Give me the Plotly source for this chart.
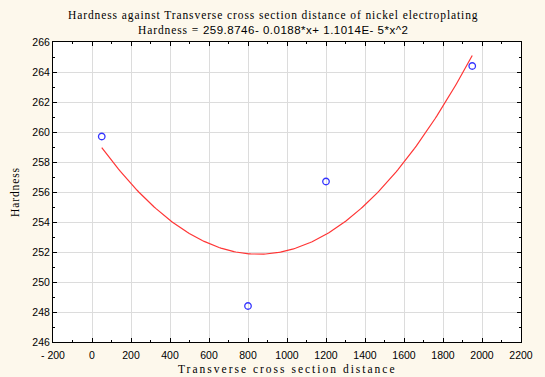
import numpy as np
import plotly.graph_objects as go

# Measured hardness at transverse positions
distance = [50, 800, 1200, 1950]
hardness = [259.7, 248.4, 256.7, 264.4]

# Quadratic fit coefficients (Hardness = c0 + c1*x + c2*x^2)
c0, c1, c2 = 259.8746, -0.0188, 1.1014e-5

x_ticks = [-200, 0, 200, 400, 600, 800, 1000, 1200, 1400, 1600, 1800, 2000, 2200]
x_tick_text = ["- 200"] + [str(v) for v in x_ticks[1:]]
y_ticks = [246, 248, 250, 252, 254, 256, 258, 260, 262, 264, 266]

xs = np.linspace(min(distance), max(distance), 200)
ys = c0 + c1 * xs + c2 * xs ** 2

fig = go.Figure()
fig.add_trace(go.Scatter(x=xs, y=ys, mode="lines",
                         line=dict(color="#ff3535", width=1.2),
                         showlegend=False, hoverinfo="skip"))
fig.add_trace(go.Scatter(x=distance, y=hardness, mode="markers",
                         marker=dict(symbol="circle-open", size=6.5,
                                     color="#3434ff", line=dict(width=1.3)),
                         showlegend=False))

axis_common = dict(
    showline=True, linecolor="black", linewidth=1, mirror="ticks",
    ticks="inside", ticklen=4, tickcolor="black",
    showgrid=True, gridcolor="#dcdcdc", gridwidth=1, zeroline=False,
    tickfont=dict(family="Liberation Sans, Arial, sans-serif", size=10.5, color="black"),
)

fig.update_xaxes(range=[-200, 2200], tickvals=x_ticks, ticktext=x_tick_text,
                 ticklabelstandoff=3,
                 minor=dict(dtick=100, ticks="inside", ticklen=2, tickcolor="black", showgrid=False),
                 **axis_common)
fig.update_yaxes(range=[246, 266], tickvals=y_ticks,
                 minor=dict(dtick=1, ticks="inside", ticklen=2, tickcolor="black", showgrid=False),
                 **axis_common)

serif = "Liberation Serif, Times New Roman, serif"
sans = "Liberation Sans, Arial, sans-serif"


def spaced(text, px, family=None):
    style = f"letter-spacing:{px}px"
    if family:
        style += f";font-family:{family}"
    return f"<span style='{style}'>{text}</span>"


title_x = 0.472

fig.update_layout(
    width=545, height=377,
    margin=dict(l=53, r=13, t=42, b=35),
    paper_bgcolor="#fdf8ec", plot_bgcolor="white",
    annotations=[
        dict(text=spaced("Hardness against Transverse cross section distance of nickel electroplating", 0.9),
             x=title_x, y=1, xref="paper", yref="paper", yanchor="middle", yshift=27,
             showarrow=False, font=dict(family=serif, size=11.5, color="black")),
        dict(text=spaced("Hardness = ", 0.9) + spaced("259.8746- 0.0188*x+ 1.1014E- 5*x^2", 0.5, sans),
             x=title_x, y=1, xref="paper", yref="paper", yanchor="middle", yshift=12.5,
             showarrow=False, font=dict(family=serif, size=11.5, color="black")),
        dict(text=spaced("Transverse cross section distance", 2.0),
             x=0.5, y=0, xref="paper", yref="paper", yanchor="middle", yshift=-27,
             showarrow=False, font=dict(family=serif, size=11.5, color="black")),
        dict(text=spaced("Hardness", 0.9), textangle=-90,
             x=0, y=0.5, xref="paper", yref="paper", xanchor="center", xshift=-38,
             showarrow=False, font=dict(family=serif, size=11.5, color="black")),
    ],
)

fig.write_html("out.html")
